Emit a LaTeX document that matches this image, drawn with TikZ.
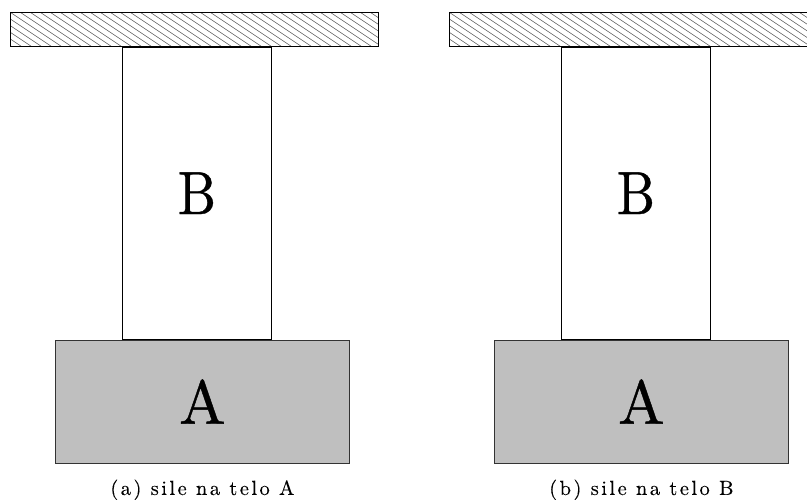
\documentclass[tikz,border=0pt]{standalone}
\usepackage{fontspec}
\usepackage{graphicx}
\usetikzlibrary{positioning}

\newfontfamily\capfont[LetterSpace=12, FakeBold=0.2]{Latin Modern Roman}
\newfontfamily\bigfont[FakeBold=0.7]{Latin Modern Roman}

\tikzset{
  ceiling/.style = {draw, line width=0.8pt, minimum width=368pt, minimum height=34pt,
    inner sep=0pt, anchor=north west,
    path picture = {
      \foreach \k in {-6,...,38}
        \draw[black!65, line width=0.6pt]
          ([xshift=\k*10pt]path picture bounding box.north west) -- ++(51pt,-34pt);
    }},
  rod/.style = {draw, line width=0.8pt, minimum width=149pt, minimum height=292pt,
    inner sep=0pt, font=\bigfont},
  block/.style = {draw=black!80, line width=0.8pt, fill=black!25, minimum width=294pt,
    minimum height=123pt, inner sep=0pt, font=\bigfont},
  caption/.style = {inner sep=0pt, font=\capfont},
}

\begin{document}
\begin{tikzpicture}[x=1pt, y=1pt]
    \useasboundingbox (0,0) rectangle (807,500);

    % (a) sile na telo A
    \node[ceiling] (ca) at (10,488) {};
    \node[rod, below = 0pt of ca.south, xshift = 2.5pt, anchor = north] (ra) {\scalebox{5.4}[6.1]{B}};
    \node[block, below = 0pt of ra.south, xshift = 5.5pt, anchor = north] (ba) {\scalebox{6.2}{A}};
    \node[caption, below = 16pt of ba] (ta) {\scalebox{2.05}{(a) sile na telo A}};

    % (b) sile na telo B
    \node[ceiling] (cb) at (449,488) {};
    \node[rod, below = 0pt of cb.south, xshift = 2.5pt, anchor = north] (rb) {\scalebox{5.4}[6.1]{B}};
    \node[block, below = 0pt of rb.south, xshift = 5.5pt, anchor = north] (bb) {\scalebox{6.2}{A}};
    \node[caption, below = 16pt of bb] (tb) {\scalebox{2.05}{(b) sile na telo B}};

\end{tikzpicture}
\end{document}
